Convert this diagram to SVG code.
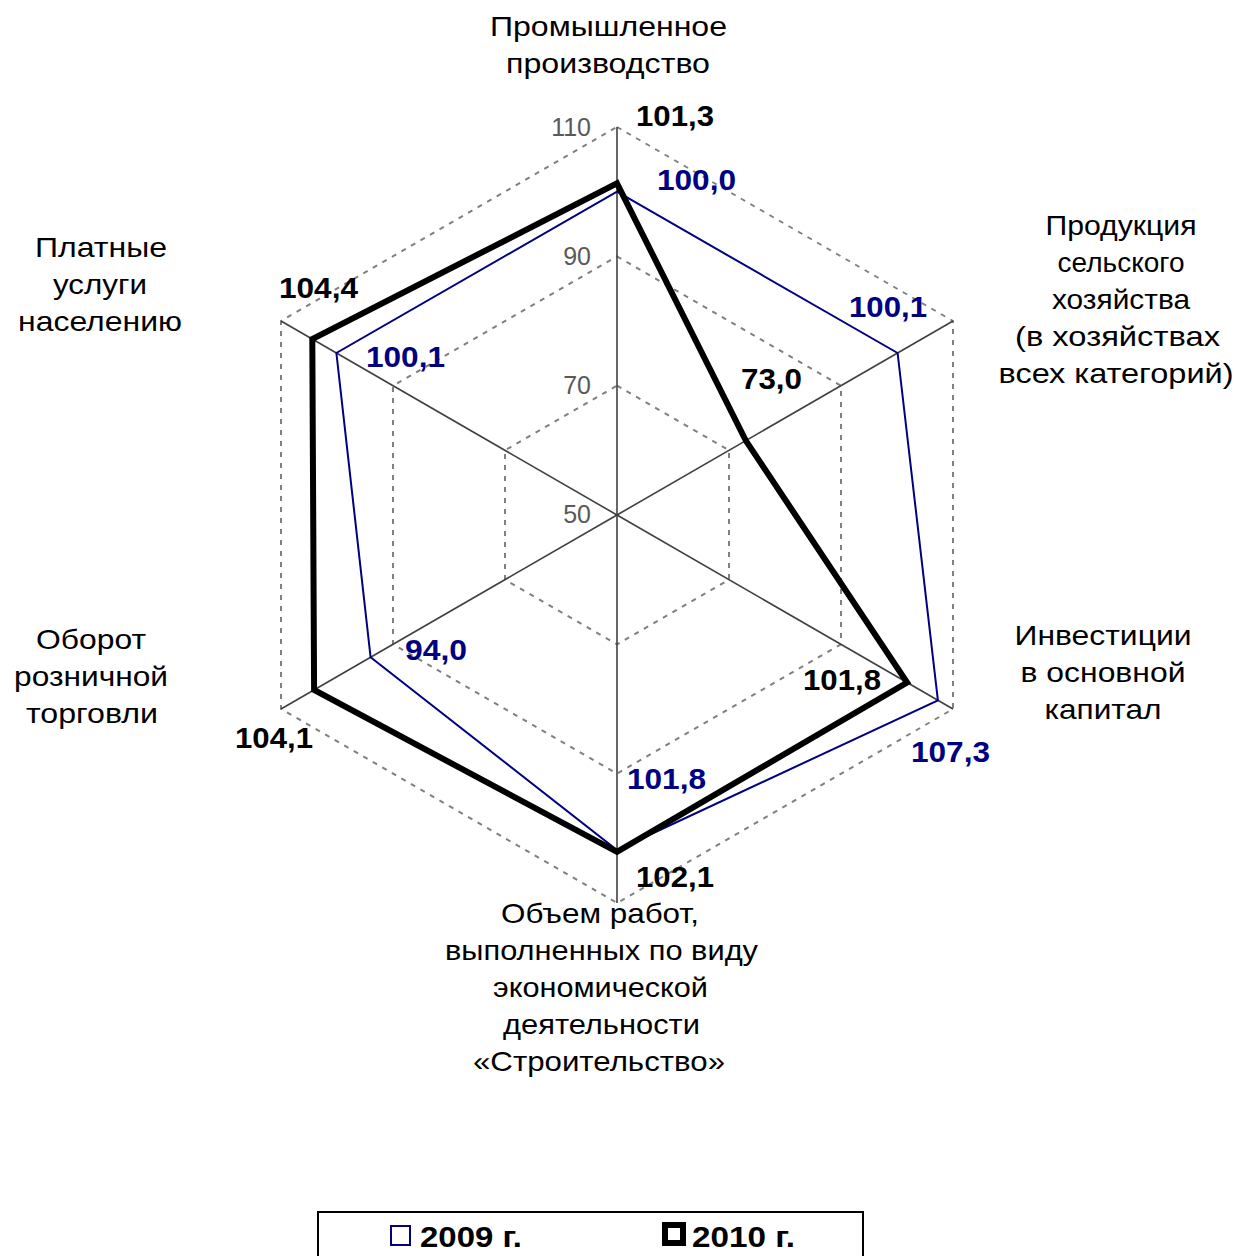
<svg xmlns="http://www.w3.org/2000/svg" width="1236" height="1256" viewBox="0 0 1236 1256">
<style>
.grid{fill:none;stroke:#808080;stroke-width:2;stroke-dasharray:5,6}
.axis{stroke:#404040;stroke-width:1.6}
.s09{fill:none;stroke:#000080;stroke-width:2;stroke-linejoin:miter}
.s10{fill:none;stroke:#000;stroke-width:6;stroke-linejoin:miter}
.cat{font-family:"Liberation Sans",Arial,sans-serif;font-size:28px;fill:#000;text-anchor:middle}
.tick{font-family:"Liberation Sans",Arial,sans-serif;font-size:25px;fill:#595959;text-anchor:end}
.vb{font-family:"Liberation Sans",Arial,sans-serif;font-size:29px;font-weight:bold;fill:#000}
.vn{font-family:"Liberation Sans",Arial,sans-serif;font-size:29px;font-weight:bold;fill:#000080}
.leg{font-family:"Liberation Sans",Arial,sans-serif;font-size:29px;font-weight:bold;fill:#000}
</style>
<rect width="1236" height="1256" fill="#fff"/>
<g id="grid">
<polygon class="grid" points="617,385.7 729,450.3 729,579.7 617,644.3 505,579.7 505,450.3"/>
<polygon class="grid" points="617,256.3 841,385.7 841,644.3 617,773.7 393,644.3 393,385.7"/>
<polygon class="grid" points="617,127 953,321 953,709 617,903 281,709 281,321"/>
</g>
<g id="axes">
<line class="axis" x1="617" y1="515" x2="617" y2="127"/>
<line class="axis" x1="617" y1="515" x2="953" y2="321"/>
<line class="axis" x1="617" y1="515" x2="953" y2="709"/>
<line class="axis" x1="617" y1="515" x2="617" y2="903"/>
<line class="axis" x1="617" y1="515" x2="281" y2="709"/>
<line class="axis" x1="617" y1="515" x2="281" y2="321"/>
</g>
<g id="ticks">
<text class="tick" x="591" y="136">110</text>
<text class="tick" x="591" y="265">90</text>
<text class="tick" x="591" y="394">70</text>
<text class="tick" x="591" y="523">50</text>
</g>
<g id="series-2009">
<polygon class="s09" points="617,191.7 897.6,353 937.9,700.3 617,850 370.6,657.3 336.4,353"/>
</g>
<g id="series-2010">
<polygon class="s10" points="617,183.3 745.8,440.6 907.1,682.5 617,851.9 314.1,689.9 312.3,339.1"/>
</g>
<g id="labels-2009">
<text class="vn" x="657" y="190" textLength="79" lengthAdjust="spacingAndGlyphs">100,0</text>
<text class="vn" x="849" y="317" textLength="78" lengthAdjust="spacingAndGlyphs">100,1</text>
<text class="vn" x="911" y="762" textLength="79" lengthAdjust="spacingAndGlyphs">107,3</text>
<text class="vn" x="627" y="789" textLength="79" lengthAdjust="spacingAndGlyphs">101,8</text>
<text class="vn" x="405" y="660" textLength="62" lengthAdjust="spacingAndGlyphs">94,0</text>
<text class="vn" x="366" y="367" textLength="79" lengthAdjust="spacingAndGlyphs">100,1</text>
</g>
<g id="labels-2010">
<text class="vb" x="636" y="126" textLength="78" lengthAdjust="spacingAndGlyphs">101,3</text>
<text class="vb" x="741" y="389" textLength="61" lengthAdjust="spacingAndGlyphs">73,0</text>
<text class="vb" x="803" y="690" textLength="78" lengthAdjust="spacingAndGlyphs">101,8</text>
<text class="vb" x="636" y="887" textLength="78" lengthAdjust="spacingAndGlyphs">102,1</text>
<text class="vb" x="235" y="748" textLength="78" lengthAdjust="spacingAndGlyphs">104,1</text>
<text class="vb" x="279" y="298" textLength="79" lengthAdjust="spacingAndGlyphs">104,4</text>
</g>
<g id="cat-prom">
<text class="cat" x="608.5" y="36" textLength="237" lengthAdjust="spacingAndGlyphs">Промышленное</text>
<text class="cat" x="608" y="73" textLength="204" lengthAdjust="spacingAndGlyphs">производство</text>
</g>
<g id="cat-agri">
<text class="cat" x="1121" y="235" textLength="151" lengthAdjust="spacingAndGlyphs">Продукция</text>
<text class="cat" x="1121" y="272" textLength="127" lengthAdjust="spacingAndGlyphs">сельского</text>
<text class="cat" x="1121" y="309" textLength="138" lengthAdjust="spacingAndGlyphs">хозяйства</text>
<text class="cat" x="1117.5" y="346" textLength="205" lengthAdjust="spacingAndGlyphs">(в хозяйствах</text>
<text class="cat" x="1116" y="383" textLength="235" lengthAdjust="spacingAndGlyphs">всех категорий)</text>
</g>
<g id="cat-invest">
<text class="cat" x="1103" y="645" textLength="177" lengthAdjust="spacingAndGlyphs">Инвестиции</text>
<text class="cat" x="1103" y="682" textLength="165" lengthAdjust="spacingAndGlyphs">в основной</text>
<text class="cat" x="1103" y="719" textLength="117" lengthAdjust="spacingAndGlyphs">капитал</text>
</g>
<g id="cat-build">
<text class="cat" x="600" y="923" textLength="198" lengthAdjust="spacingAndGlyphs">Объем работ,</text>
<text class="cat" x="601.5" y="960" textLength="313" lengthAdjust="spacingAndGlyphs">выполненных по виду</text>
<text class="cat" x="600.5" y="997" textLength="215" lengthAdjust="spacingAndGlyphs">экономической</text>
<text class="cat" x="601.5" y="1034" textLength="197" lengthAdjust="spacingAndGlyphs">деятельности</text>
<text class="cat" x="599" y="1071" textLength="252" lengthAdjust="spacingAndGlyphs">«Строительство»</text>
</g>
<g id="cat-retail">
<text class="cat" x="91" y="649" textLength="110" lengthAdjust="spacingAndGlyphs">Оборот</text>
<text class="cat" x="91" y="686" textLength="154" lengthAdjust="spacingAndGlyphs">розничной</text>
<text class="cat" x="92" y="723" textLength="132" lengthAdjust="spacingAndGlyphs">торговли</text>
</g>
<g id="cat-services">
<text class="cat" x="101" y="257" textLength="132" lengthAdjust="spacingAndGlyphs">Платные</text>
<text class="cat" x="100" y="294" textLength="94" lengthAdjust="spacingAndGlyphs">услуги</text>
<text class="cat" x="100" y="331" textLength="164" lengthAdjust="spacingAndGlyphs">населению</text>
</g>
<g id="legend">
<rect x="318" y="1212" width="545" height="60" fill="#fff" stroke="#000" stroke-width="2"/>
<rect x="391" y="1226" width="19" height="19" fill="#fff" stroke="#000080" stroke-width="2"/>
<text class="leg" x="420" y="1247" textLength="102" lengthAdjust="spacingAndGlyphs">2009 г.</text>
<rect x="662" y="1222" width="24" height="24" fill="#000"/>
<rect x="668" y="1228" width="12" height="12" fill="#fff"/>
<text class="leg" x="692" y="1247" textLength="103" lengthAdjust="spacingAndGlyphs">2010 г.</text>
</g>
</svg>
